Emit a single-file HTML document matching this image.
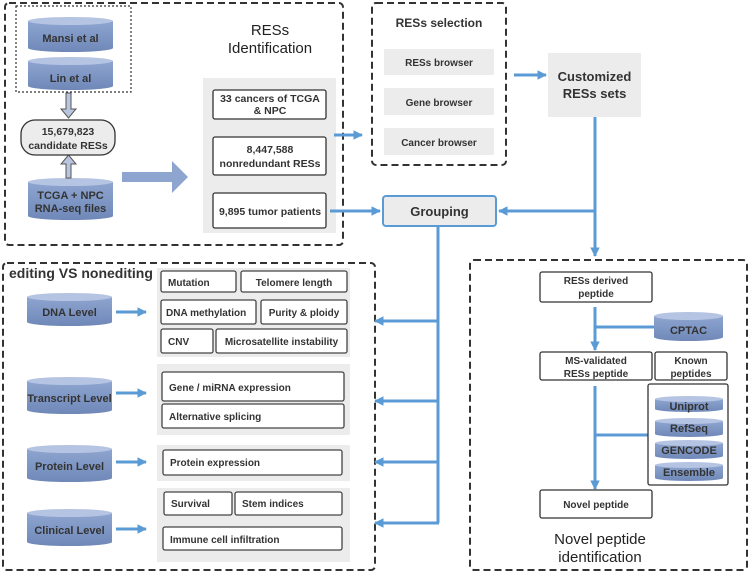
<!DOCTYPE html>
<html><head><meta charset="utf-8"><style>
html,body{margin:0;padding:0;background:#fff;}
svg{display:block;font-family:"Liberation Sans",sans-serif;}
text{font-weight:bold;fill:#333;}
text.t{font-weight:normal;fill:#222;}
</style></head><body>
<svg width="751" height="576" viewBox="0 0 751 576" xmlns="http://www.w3.org/2000/svg">
<defs>
<linearGradient id="cyl" x1="0" y1="0" x2="0" y2="1">
<stop offset="0" stop-color="#8ea5d0"/><stop offset="1" stop-color="#6f88b8"/>
</linearGradient>
<marker id="ah" viewBox="0 0 10 10" refX="9" refY="5" markerWidth="3.2" markerHeight="3.2" orient="auto">
<path d="M0,0 L10,5 L0,10 Z" fill="#5b9bd5"/></marker>
</defs>
<g fill="none" stroke="#333" stroke-width="2" stroke-dasharray="7,4">
<rect x="5" y="3" width="338" height="242" rx="4"/>
<rect x="372" y="3" width="134" height="162" rx="4"/>
<rect x="3" y="263" width="372" height="307" rx="4"/>
<rect x="470" y="260" width="277" height="310" rx="4"/>
</g>
<rect x="16" y="6" width="115" height="86" fill="none" stroke="#333" stroke-width="1.2" stroke-dasharray="2,2"/>

<g stroke="none">
<path d="M28,21 v27 a42.5,4 0 0 0 85,0 v-27 z" fill="url(#cyl)"/><ellipse cx="70.5" cy="21" rx="42.5" ry="4" fill="#b5c4e2"/>
<path d="M28,61 v25 a42.5,4 0 0 0 85,0 v-25 z" fill="url(#cyl)"/><ellipse cx="70.5" cy="61" rx="42.5" ry="4" fill="#b5c4e2"/>
<path d="M28,182 v34 a42.5,4 0 0 0 85,0 v-34 z" fill="url(#cyl)"/><ellipse cx="70.5" cy="182" rx="42.5" ry="4" fill="#b5c4e2"/>
<path d="M27,297 v25 a42.5,4 0 0 0 85,0 v-25 z" fill="url(#cyl)"/><ellipse cx="69.5" cy="297" rx="42.5" ry="4" fill="#b5c4e2"/>
<path d="M27,381 v29 a42.5,4 0 0 0 85,0 v-29 z" fill="url(#cyl)"/><ellipse cx="69.5" cy="381" rx="42.5" ry="4" fill="#b5c4e2"/>
<path d="M27,449 v29 a42.5,4 0 0 0 85,0 v-29 z" fill="url(#cyl)"/><ellipse cx="69.5" cy="449" rx="42.5" ry="4" fill="#b5c4e2"/>
<path d="M27,513 v29 a42.5,4 0 0 0 85,0 v-29 z" fill="url(#cyl)"/><ellipse cx="69.5" cy="513" rx="42.5" ry="4" fill="#b5c4e2"/>
<path d="M654,316 v21 a34.5,4 0 0 0 69,0 v-21 z" fill="url(#cyl)"/><ellipse cx="688.5" cy="316" rx="34.5" ry="4" fill="#b5c4e2"/>
<path d="M655,399 v10 a34,3 0 0 0 68,0 v-10 z" fill="url(#cyl)"/><ellipse cx="689" cy="399" rx="34" ry="3" fill="#b5c4e2"/>
<path d="M655,421 v13 a34,3 0 0 0 68,0 v-13 z" fill="url(#cyl)"/><ellipse cx="689" cy="421" rx="34" ry="3" fill="#b5c4e2"/>
<path d="M655,443 v13 a34,3 0 0 0 68,0 v-13 z" fill="url(#cyl)"/><ellipse cx="689" cy="443" rx="34" ry="3" fill="#b5c4e2"/>
<path d="M655,465 v13 a34,3 0 0 0 68,0 v-13 z" fill="url(#cyl)"/><ellipse cx="689" cy="465" rx="34" ry="3" fill="#b5c4e2"/>
</g>
<g font-size="11" text-anchor="middle">
<text x="70.5" y="42">Mansi et al</text>
<text x="70.5" y="82">Lin et al</text>
<text x="70.5" y="199">TCGA + NPC</text><text x="70.5" y="212">RNA-seq files</text>
<text x="69.5" y="316">DNA Level</text>
<text x="69.5" y="402">Transcript Level</text>
<text x="69.5" y="470">Protein Level</text>
<text x="69.5" y="534">Clinical Level</text>
<text x="688.5" y="334">CPTAC</text>
<text x="689" y="410">Uniprot</text>
<text x="689" y="432">RefSeq</text>
<text x="689" y="454">GENCODE</text>
<text x="689" y="476">Ensemble</text>
</g>

<path d="M66,93 h5 v16 h5 l-7.5,9 l-7.5,-9 h5 z" fill="#b8c5dd" stroke="#555" stroke-width="1"/>
<path d="M66,178 h5 v-14 h5 l-7.5,-9 l-7.5,9 h5 z" fill="#b8c5dd" stroke="#555" stroke-width="1"/>
<rect x="21" y="120" width="94" height="35" rx="14" fill="#ececec" stroke="#333" stroke-width="1.3"/>
<text x="68" y="135" font-size="10.5" text-anchor="middle">15,679,823</text>
<text x="68" y="149" font-size="10.5" text-anchor="middle">candidate RESs</text>
<path d="M122,172 h50 v-11 l16,16 l-16,16 v-11 h-50 z" fill="#8ea6cf"/>

<text class="t" x="270" y="35" font-size="15" text-anchor="middle">RESs</text>
<text class="t" x="270" y="53" font-size="15" text-anchor="middle">Identification</text>
<rect x="203" y="78" width="133" height="155" fill="#ececec"/>
<g fill="#fff" stroke="#333" stroke-width="1.3">
<rect x="213" y="90" width="113" height="29" rx="2"/>
<rect x="213" y="137" width="113" height="38" rx="2"/>
<rect x="213" y="193" width="113" height="35" rx="2"/>
</g>
<g font-size="10.5" text-anchor="middle">
<text x="270" y="102">33 cancers of TCGA</text><text x="270" y="114">&amp; NPC</text>
<text x="270" y="153">8,447,588</text><text x="270" y="167">nonredundant RESs</text>
<text x="270" y="215">9,895 tumor patients</text>
</g>

<text x="439" y="27" font-size="12" text-anchor="middle">RESs selection</text>
<g fill="#ececec"><rect x="384" y="49" width="110" height="26"/><rect x="384" y="88" width="110" height="27"/><rect x="384" y="128" width="110" height="27"/></g>
<g font-size="10" text-anchor="middle">
<text x="439" y="66">RESs browser</text><text x="439" y="106">Gene browser</text><text x="439" y="146">Cancer browser</text>
</g>
<rect x="548" y="53" width="93" height="64" fill="#ececec"/>
<text x="594.5" y="81" font-size="13" text-anchor="middle">Customized</text>
<text x="594.5" y="98" font-size="13" text-anchor="middle">RESs sets</text>
<rect x="383" y="196" width="113" height="30" rx="3" fill="#ececec" stroke="#5b9bd5" stroke-width="2"/>
<text x="439.5" y="216" font-size="13" text-anchor="middle">Grouping</text>

<g stroke="#5b9bd5" stroke-width="3" fill="none">
<line x1="334" y1="135" x2="362" y2="135" marker-end="url(#ah)"/>
<line x1="330" y1="211" x2="380" y2="211" marker-end="url(#ah)"/>
<line x1="514" y1="75" x2="546" y2="75" marker-end="url(#ah)"/>
<line x1="595" y1="117" x2="595" y2="256" marker-end="url(#ah)"/>
<line x1="596" y1="211" x2="499" y2="211" marker-end="url(#ah)"/>
<line x1="438" y1="226" x2="438" y2="523"/>
<line x1="439" y1="321" x2="375" y2="321" marker-end="url(#ah)"/>
<line x1="439" y1="401" x2="375" y2="401" marker-end="url(#ah)"/>
<line x1="439" y1="462" x2="375" y2="462" marker-end="url(#ah)"/>
<line x1="439" y1="523" x2="375" y2="523" marker-end="url(#ah)"/>
<line x1="116" y1="312" x2="146" y2="312" marker-end="url(#ah)"/>
<line x1="116" y1="393" x2="146" y2="393" marker-end="url(#ah)"/>
<line x1="116" y1="462" x2="146" y2="462" marker-end="url(#ah)"/>
<line x1="116" y1="529" x2="146" y2="529" marker-end="url(#ah)"/>
<line x1="595" y1="307" x2="595" y2="350" marker-end="url(#ah)"/>
<line x1="596" y1="327" x2="654" y2="327"/>
<line x1="595" y1="386" x2="595" y2="489" marker-end="url(#ah)"/>
<line x1="596" y1="435" x2="648" y2="435"/>
</g>

<text x="9" y="278" font-size="14" fill="#222">editing VS nonediting</text>
<g fill="#ececec">
<rect x="157" y="268" width="193" height="89"/>
<rect x="157" y="364" width="193" height="71"/>
<rect x="157" y="445" width="193" height="36"/>
<rect x="157" y="488" width="193" height="74"/>
</g>
<g fill="#fff" stroke="#444" stroke-width="1.3">
<rect x="161" y="271" width="75" height="21" rx="2"/>
<rect x="241" y="271" width="106" height="21" rx="2"/>
<rect x="161" y="300" width="95" height="24" rx="2"/>
<rect x="261" y="300" width="86" height="24" rx="2"/>
<rect x="161" y="329" width="52" height="24" rx="2"/>
<rect x="216" y="329" width="131" height="24" rx="2"/>
<rect x="162" y="372" width="182" height="29" rx="2"/>
<rect x="162" y="404" width="182" height="24" rx="2"/>
<rect x="163" y="450" width="179" height="25" rx="2"/>
<rect x="164" y="492" width="68" height="23" rx="2"/>
<rect x="235" y="492" width="107" height="23" rx="2"/>
<rect x="163" y="527" width="179" height="23" rx="2"/>
</g>
<g font-size="10">
<text x="168" y="286">Mutation</text>
<text x="294" y="286" text-anchor="middle">Telomere length</text>
<text x="166" y="316">DNA methylation</text>
<text x="304" y="316" text-anchor="middle">Purity &amp; ploidy</text>
<text x="168" y="345">CNV</text>
<text x="281.5" y="345" text-anchor="middle">Microsatellite instability</text>
<text x="169" y="391">Gene / miRNA expression</text>
<text x="169" y="420">Alternative splicing</text>
<text x="170" y="466">Protein expression</text>
<text x="171" y="507">Survival</text>
<text x="242" y="507">Stem indices</text>
<text x="170" y="543">Immune cell infiltration</text>
</g>

<g fill="#fff" stroke="#333" stroke-width="1.3">
<rect x="540" y="272" width="112" height="30" rx="2"/>
<rect x="540" y="352" width="112" height="28" rx="2"/>
<rect x="655" y="352" width="72" height="28" rx="2"/>
<rect x="540" y="490" width="112" height="28" rx="2"/>
</g>
<rect x="648" y="384" width="80" height="101" rx="2" fill="none" stroke="#333" stroke-width="1.3"/>
<g font-size="10" text-anchor="middle">
<text x="596" y="284">RESs derived</text><text x="596" y="297">peptide</text>
<text x="596" y="364">MS-validated</text><text x="596" y="377">RESs peptide</text>
<text x="691" y="364">Known</text><text x="691" y="377">peptides</text>
<text x="596" y="508">Novel peptide</text>
</g>
<text class="t" x="600" y="544" font-size="15" text-anchor="middle">Novel peptide</text>
<text class="t" x="600" y="562" font-size="15" text-anchor="middle">identification</text>
</svg>
</body></html>
